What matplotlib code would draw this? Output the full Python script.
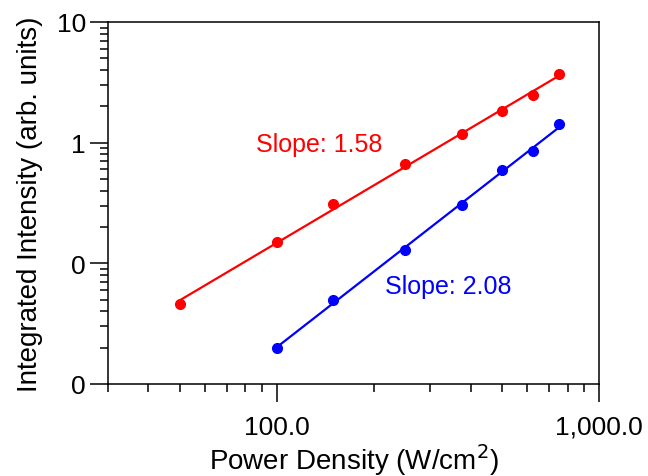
import numpy as np
import matplotlib
matplotlib.use('Agg')
from matplotlib import pyplot as plt, ticker

plt.rcParams['font.family'] = ['Liberation Sans', 'DejaVu Sans']

# power density (W/cm^2)
x_red = [50, 100, 150, 250, 375, 500, 625, 750]
y_red = [0.0457, 0.149, 0.309, 0.664, 1.18, 1.82, 2.48, 3.70]

x_blue = [100, 150, 250, 375, 500, 625, 750]
y_blue = [0.0200, 0.0496, 0.129, 0.303, 0.591, 0.855, 1.43]

slope_red = 'Slope: 1.58'
slope_blue = 'Slope: 2.08'

fig = plt.figure(figsize=(6.48, 4.77), dpi=100)
ax = fig.add_axes([0.1667, 0.1929, 0.7577, 0.7589])

# power law fits in log-log space
for xs, ys, col in [(x_red, y_red, '#ff0000'), (x_blue, y_blue, '#0000ff')]:
    k, b = np.polyfit(np.log10(xs), np.log10(ys), 1)
    xf = np.array([xs[0], xs[-1]])
    ax.plot(xf, 10**(k*np.log10(xf) + b), color=col, lw=1.6, zorder=2)
    ax.plot(xs, ys, 'o', color=col, ms=7, zorder=3)

ax.set_xscale('log')
ax.set_yscale('log')
ax.set_xlim(30, 1000)
ax.set_ylim(0.01, 10)

ax.xaxis.set_major_locator(ticker.FixedLocator([100, 1000]))
ax.xaxis.set_minor_locator(ticker.LogLocator(base=10, subs=np.arange(2, 10)))
ax.xaxis.set_major_formatter(ticker.FuncFormatter(lambda v, p: '{:,.1f}'.format(v)))
ax.xaxis.set_minor_formatter(ticker.NullFormatter())

ax.yaxis.set_major_locator(ticker.FixedLocator([0.01, 0.1, 1, 10]))
ax.yaxis.set_minor_locator(ticker.LogLocator(base=10, subs=np.arange(2, 10)))
ax.yaxis.set_major_formatter(ticker.FuncFormatter(lambda v, p: '{:.0f}'.format(v)))
ax.yaxis.set_minor_formatter(ticker.NullFormatter())

ax.tick_params(which='major', direction='out', length=13, width=1.1, labelsize=19)
ax.tick_params(which='minor', direction='out', length=6, width=1.1)
ax.tick_params(axis='x', which='major', pad=9)
ax.tick_params(axis='y', which='major', pad=3)
ax.tick_params(top=False, right=False)
for s in ax.spines.values():
    s.set_linewidth(1.1)

ax.set_xlabel('Power Density (W/cm$^2$)', fontsize=20, labelpad=2)
ax.set_ylabel('Integrated Intensity (arb. units)', fontsize=20, labelpad=10)

ax.text(136, 0.97, slope_red, color='#ff0000', fontsize=18, ha='center', va='center')
ax.text(340, 0.0644, slope_blue, color='#0000ff', fontsize=18, ha='center', va='center')

fig.savefig('out.png', dpi=100)
